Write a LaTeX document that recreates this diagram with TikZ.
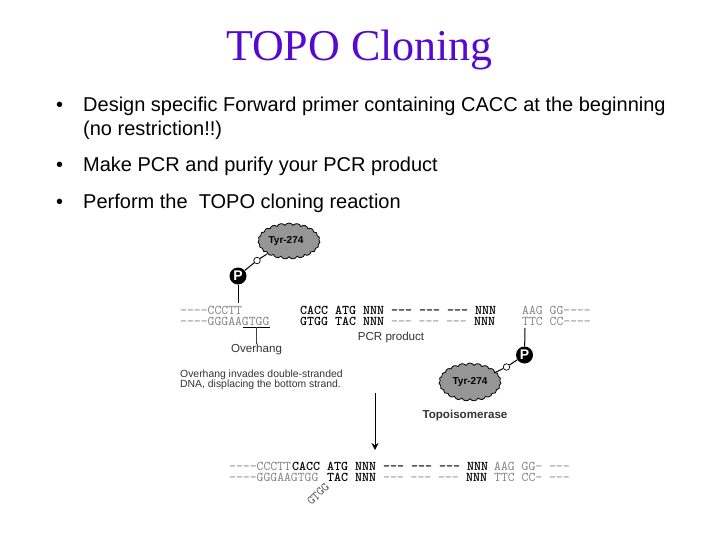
\documentclass[tikz,border=0pt]{standalone}
\usepackage{fontspec}
\setmainfont{Liberation Sans}
\newfontfamily\titlefont{Liberation Serif}
\usetikzlibrary{shapes.symbols,arrows.meta}
\definecolor{titlecol}{RGB}{85,10,205}
\definecolor{seqgray}{RGB}{125,125,125}
\definecolor{cloudgray}{RGB}{150,150,150}
\tikzset{
 bullettext/.style={anchor=base west,inner sep=0,font=\fontsize{20}{20}\selectfont,text=black},
 seqlight/.style={anchor=base west,inner sep=0,font=\ttfamily\fontsize{13.33}{13}\selectfont,text=seqgray},
 seqbold/.style={anchor=base west,inner sep=0,font=\ttfamily\bfseries\fontsize{13.33}{13}\selectfont,text=black},
 caption text/.style={inner sep=0,font=\fontsize{11.6}{12}\selectfont,text=black!80},
 note text/.style={anchor=base west,inner sep=0,font=\fontsize{10.4}{12}\selectfont,text=black!80},
 enzyme/.style={cloud,cloud puffs=23,cloud puff arc=120,aspect=1.7,draw=black,line width=.8pt,fill=cloudgray,inner sep=0,font=\bfseries\fontsize{10}{10}\selectfont},
 phos/.style={circle,fill=black,text=white,inner sep=0,minimum size=17pt,font=\bfseries\fontsize{14}{14}\selectfont},
 oxy/.style={circle,draw=black,line width=.7pt,fill=white,inner sep=0,minimum size=6.5pt},
 bond/.style={draw=black,line width=1pt},
 thin line/.style={draw=black!75,line width=.6pt},
}
\begin{document}
\begin{tikzpicture}[x=1pt,y=-1pt]
\useasboundingbox (0,0) rectangle (720,540);
\node[inner sep=0,font=\titlefont\fontsize{44}{44}\selectfont,text=titlecol] (title) at (359.5,50) {TOPO Cloning};
\node[bullettext] (b1) at (56,112) {•};
\node[bullettext] (t1) at (83,112) {Design specific Forward primer containing CACC at the beginning};
\node[bullettext] (t1b) at (83,136) {(no restriction!!)};
\node[bullettext] (b2) at (56,172) {•};
\node[bullettext] (t2) at (83,172) {Make PCR and purify your PCR product};
\node[bullettext] (b3) at (56,208) {•};
\node[bullettext] (t3) at (83,208) {Perform the\ \ TOPO cloning reaction};
% top-left fragment
\node[seqlight] (la) at (180,314) {----CCCTT};
\node[seqlight] (lb) at (180,325) {----GGGAAGTGG};
\node[seqbold] (ma) at (300,314) {CACC ATG NNN --- --- --- NNN};
\node[seqbold] (mb) at (300,325) {GTGG TAC NNN};
\node[seqlight] (mc) at (391,325) {--- --- ---};
\node[seqbold] (md) at (474,325) {NNN};
\node[seqlight] (ra) at (522,314) {AAG GG----};
\node[seqlight] (rb) at (522,325) {TTC CC----};
\node[caption text] (pcr) at (391,337.5) {PCR product};
\node[caption text] (over) at (256.5,349.5) {Overhang};
\node[note text] (inv1) at (180,377) {Overhang invades double-stranded};
\node[note text] (inv2) at (180,387) {DNA, displacing the bottom strand.};
\node[caption text,font=\bfseries\fontsize{11.6}{12}\selectfont] (topo) at (465,415) {Topoisomerase};
% enzymes
\node[enzyme,minimum width=62pt,minimum height=36pt] (c1) at (289,241) {\hspace*{-6pt}Tyr-274};
\node[enzyme,minimum width=62pt,minimum height=38pt] (c2) at (470,382) {Tyr-274};
\node[phos] (p1) at (238,276) {P};
\node[phos] (p2) at (524.5,355) {P};
\node[oxy] (o1) at (257,260.5) {};
\node[oxy] (o2) at (506.5,367) {};
\coordinate (c1e) at (267,254);
\coordinate (c2e) at (494,373);
\coordinate (bt1) at (238,303);
\coordinate (bt2) at (525,328);
\draw[bond] (p1) -- (o1) -- (c1e);
\draw[bond] (p2) -- (o2) -- (c2e);
\draw[bond] (p1) -- (bt1);
\draw[bond] (p2) -- (bt2);
% overhang bracket
\coordinate (ua) at (243,327);
\coordinate (ub) at (270,327);
\coordinate (um) at (256.5,327);
\draw[bond] (ua) -- (ub);
\draw[thin line] (um) -- (over.north);
% reaction arrow
\coordinate (ar1) at (375,393);
\coordinate (ar2) at (375,450);
\draw[draw=black,line width=.8pt,-{Stealth[length=7pt,width=7pt]}] (ar1) -- (ar2);
% product
\node[seqlight] (pa) at (229,470) {----CCCTT};
\node[seqbold] (pb) at (292,470) {CACC ATG NNN --- --- --- NNN};
\node[seqlight] (pc) at (494,470) {AAG GG- ---};
\node[seqlight] (pd) at (229,481) {----GGGAAGTGG};
\node[seqbold] (pe) at (327,481) {TAC NNN};
\node[seqlight] (pf) at (383,481) {--- --- ---};
\node[seqbold] (pg) at (466,481) {NNN};
\node[seqlight] (ph) at (494,481) {TTC CC- ---};
\node[inner sep=0,rotate=45,font=\ttfamily\fontsize{12.5}{13}\selectfont,text=black!70] (gt) at (318,494) {GTGG};
\end{tikzpicture}
\end{document}
